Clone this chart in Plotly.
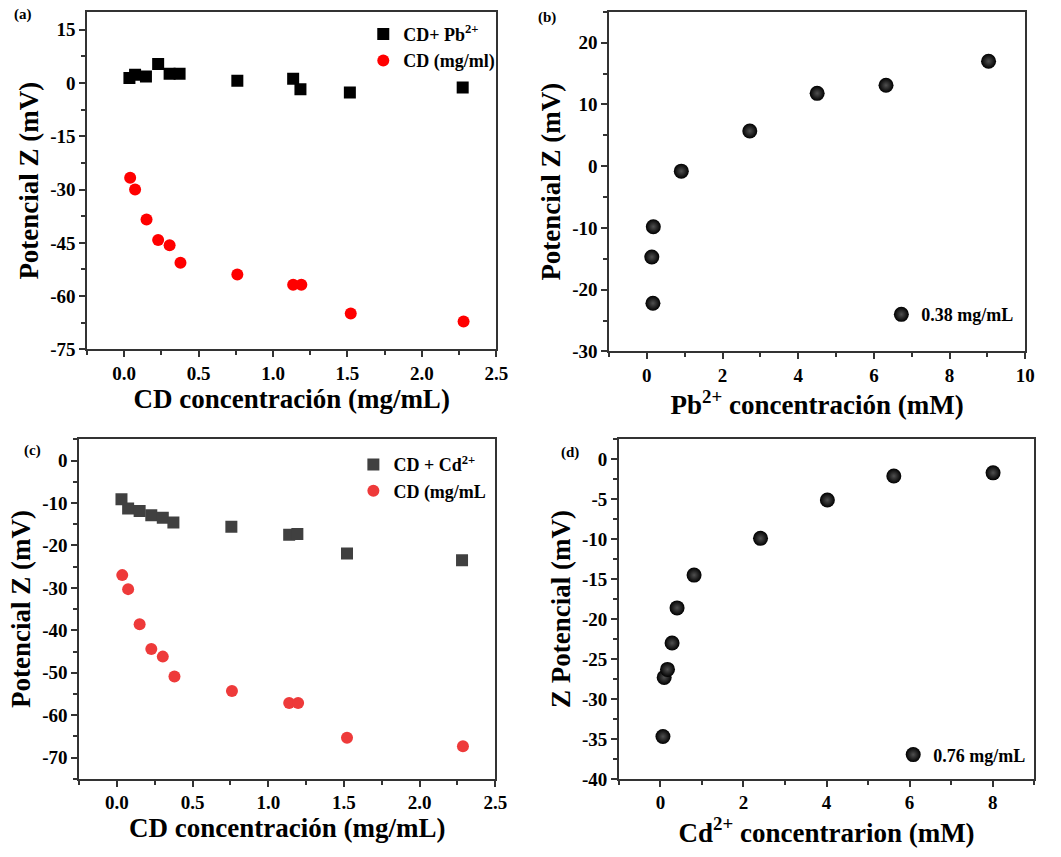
import plotly.graph_objects as go

# ---------------- data ----------------
# (a) CD + Pb2+ and CD alone
a_x_pb = [0.035, 0.073, 0.146, 0.228, 0.305, 0.372, 0.76, 1.135, 1.184, 1.516, 2.274]
a_y_pb = [1.4, 2.3, 1.8, 5.3, 2.6, 2.6, 0.6, 1.2, -1.8, -2.7, -1.3]
a_x_cd = [0.04, 0.073, 0.15, 0.228, 0.305, 0.378, 0.76, 1.135, 1.19, 1.522, 2.28]
a_y_cd = [-26.7, -30.0, -38.4, -44.2, -45.7, -50.6, -53.9, -56.8, -56.8, -64.9, -67.1]

# (b) Pb2+ titration at 0.38 mg/mL
b_x = [0.17, 0.13, 0.16, 0.91, 2.72, 4.5, 6.32, 9.03]
b_y = [-9.8, -14.7, -22.2, -0.8, 5.7, 11.8, 13.1, 17.0]

# (c) CD + Cd2+ and CD alone
c_x_cd2 = [0.03, 0.074, 0.15, 0.227, 0.303, 0.373, 0.756, 1.138, 1.192, 1.52, 2.28]
c_y_cd2 = [-9.1, -11.3, -11.9, -12.9, -13.5, -14.6, -15.6, -17.5, -17.3, -21.9, -23.5]
c_x_cd = [0.035, 0.074, 0.15, 0.227, 0.303, 0.38, 0.76, 1.138, 1.197, 1.52, 2.286]
c_y_cd = [-27.0, -30.3, -38.6, -44.4, -46.2, -50.9, -54.3, -57.1, -57.1, -65.3, -67.3]

# (d) Cd2+ titration at 0.76 mg/mL
d_x = [0.06, 0.09, 0.17, 0.28, 0.40, 0.81, 2.41, 4.02, 5.62, 8.01]
d_y = [-34.7, -27.3, -26.3, -23.0, -18.6, -14.5, -9.9, -5.1, -2.1, -1.7]

# tick values
a_yticks = [-75, -60, -45, -30, -15, 0, 15]
b_yticks = [-30, -20, -10, 0, 10, 20]
c_yticks = [-70, -60, -50, -40, -30, -20, -10, 0]
d_yticks = [-40, -35, -30, -25, -20, -15, -10, -5, 0]
cd_xticks = [0.0, 0.5, 1.0, 1.5, 2.0, 2.5]
b_xticks = [0, 2, 4, 6, 8, 10]
d_xticks = [0, 2, 4, 6, 8]


def lab(v, fmt="{:g}"):
    return ["<b>" + fmt.format(t) + "</b>" for t in v]


SERIF = "Liberation Serif"
fig = go.Figure()

fig.add_trace(go.Scatter(x=a_x_pb, y=a_y_pb, mode="markers", name="CD+ Pb<sup>2+</sup>",
                         marker=dict(symbol="square", size=12, color="#000000"),
                         xaxis="x", yaxis="y", legend="legend"))
fig.add_trace(go.Scatter(x=a_x_cd, y=a_y_cd, mode="markers", name="CD (mg/ml)",
                         marker=dict(symbol="circle", size=12, color="#ff0000"),
                         xaxis="x", yaxis="y", legend="legend"))

sphere = dict(symbol="circle", size=15, color="#000000",
              gradient=dict(type="radial", color="#505050"),
              line=dict(width=0))
fig.add_trace(go.Scatter(x=b_x, y=b_y, mode="markers", name="0.38 mg/mL",
                         marker=sphere, xaxis="x2", yaxis="y2", legend="legend2"))

fig.add_trace(go.Scatter(x=c_x_cd2, y=c_y_cd2, mode="markers", name="CD + Cd<sup>2+</sup>",
                         marker=dict(symbol="square", size=12, color="#404040"),
                         xaxis="x3", yaxis="y3", legend="legend3"))
fig.add_trace(go.Scatter(x=c_x_cd, y=c_y_cd, mode="markers", name="CD (mg/mL",
                         marker=dict(symbol="circle", size=12, color="#ee3a3a"),
                         xaxis="x3", yaxis="y3", legend="legend3"))

fig.add_trace(go.Scatter(x=d_x, y=d_y, mode="markers", name="0.76 mg/mL",
                         marker=sphere, xaxis="x4", yaxis="y4", legend="legend4"))

W, H = 1061, 857


def dx(a, b):
    return [a / W, b / W]


def dy(top, bottom):
    return [1 - bottom / H, 1 - top / H]


def axis(domain, rng, tv, tt, minor, title, anchor, standoff):
    return dict(domain=domain, range=rng, anchor=anchor,
                showline=True, linecolor="#333333", linewidth=1.5, mirror=True,
                ticks="outside", ticklen=6, tickwidth=1.5, tickcolor="#333333",
                showgrid=False, zeroline=False,
                tickmode="array", tickvals=tv, ticktext=tt,
                tickfont=dict(family=SERIF, size=19, color="#000000"),
                minor=dict(ticks="outside", ticklen=4, tickwidth=1.5, tickcolor="#333333",
                           dtick=minor, tick0=0),
                title=dict(text=title, standoff=standoff,
                           font=dict(family=SERIF, size=27, color="#000000", weight="bold")))


fig.update_layout(
    width=W, height=H, margin=dict(l=0, r=0, t=0, b=0),
    paper_bgcolor="white", plot_bgcolor="white", showlegend=True,
    xaxis=axis(dx(88, 502), [-0.25, 2.5], cd_xticks, lab(cd_xticks, "{:.1f}"), 0.25,
               "CD concentración (mg/mL)", "y", 6),
    yaxis=axis(dy(12, 354), [-75, 20], a_yticks, lab(a_yticks), 7.5, "Potencial Z (mV)", "x", 4),
    xaxis2=axis(dx(616, 1037), [-1, 10], b_xticks, lab(b_xticks), 1,
                "Pb<sup>2+</sup> concentración (mM)", "y2", 6),
    yaxis2=axis(dy(12, 356), [-30, 25], b_yticks, lab(b_yticks), 5, "Potencial Z (mV)", "x2", 4),
    xaxis3=axis(dx(80, 501), [-0.25, 2.5], cd_xticks, lab(cd_xticks, "{:.1f}"), 0.25,
                "CD concentración (mg/mL)", "y3", 6),
    yaxis3=axis(dy(445, 789), [-75, 5], c_yticks, lab(c_yticks), 5, "Potencial Z (mV)", "x3", 4),
    xaxis4=axis(dx(626, 1046), [-1, 9], d_xticks, lab(d_xticks), 1,
                "Cd<sup>2+</sup> concentrarion (mM)", "y4", 6),
    yaxis4=axis(dy(445, 789), [-40, 2.5], d_yticks, lab(d_yticks), 2.5, "Z Potencial (mV)", "x4", 4),
)

leg_font = dict(family=SERIF, size=18, color="#000000", weight="bold")
fig.update_layout(
    legend=dict(x=506 / W, y=1 - 16 / H, xanchor="right", yanchor="top", font=leg_font,
                bgcolor="rgba(0,0,0,0)", itemwidth=30, tracegroupgap=0),
    legend2=dict(x=1030 / W, y=1 - 300 / H, xanchor="right", yanchor="top", font=leg_font,
                 bgcolor="rgba(0,0,0,0)", itemwidth=30),
    legend3=dict(x=497 / W, y=1 - 452 / H, xanchor="right", yanchor="top", font=leg_font,
                 bgcolor="rgba(0,0,0,0)", itemwidth=30),
    legend4=dict(x=1042 / W, y=1 - 746 / H, xanchor="right", yanchor="top", font=leg_font,
                 bgcolor="rgba(0,0,0,0)", itemwidth=30),
)

panel_labels = [("(a)", 23, 15), ("(b)", 553, 18), ("(c)", 33, 456), ("(d)", 577, 458)]
for t, px, py in panel_labels:
    fig.add_annotation(text="<b>" + t + "</b>", x=px / W, y=1 - py / H, xref="paper", yref="paper",
                       showarrow=False, xanchor="center", yanchor="middle",
                       font=dict(family=SERIF, size=15, color="#000000"))

fig.write_html("out.html")
